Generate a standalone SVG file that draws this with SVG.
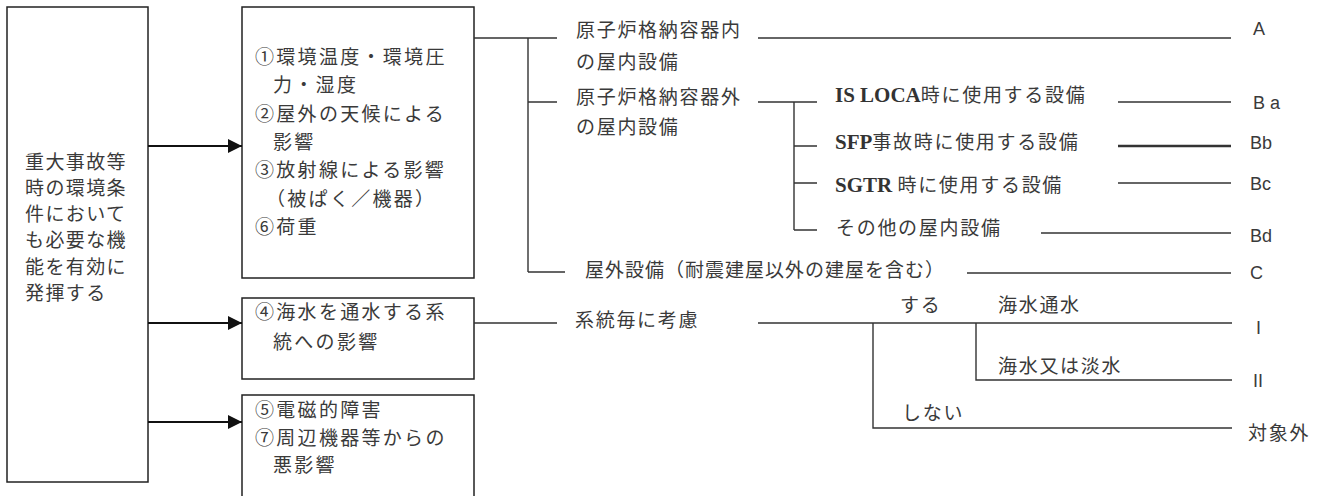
<svg xmlns="http://www.w3.org/2000/svg" width="1327" height="496" viewBox="0 0 1327 496">
<style>
.bg{fill:#fff}
.box{fill:#fff;stroke:#222;stroke-width:1.5}
.ln{stroke:#333;stroke-width:1.4;fill:none}
.thick{stroke-width:2.6}
.arr{stroke:#111;stroke-width:2;fill:none}
.jp{font-family:"Noto Sans CJK JP","Noto Sans",sans-serif;font-size:19px;fill:#3a3a3a;letter-spacing:1.7px}
.bx{letter-spacing:2.3px}
.lb{letter-spacing:1.4px}
.out{letter-spacing:1px}
.lat{font-family:"Liberation Sans",Arial,sans-serif;font-size:18px;fill:#3a3a3a}
.ser{font-family:"Liberation Serif","Times New Roman",serif;font-weight:bold;font-size:21px;letter-spacing:0;fill:#333}
</style>
<defs>
<marker id="ah" viewBox="0 0 14 14" refX="14" refY="7" markerWidth="14" markerHeight="14" markerUnits="userSpaceOnUse" orient="auto">
<path d="M0,0 L14,7 L0,14 Z" fill="#111"/>
</marker>
</defs>
<rect class="bg" x="0" y="0" width="1327" height="496"/>

<g id="node-goal">
<rect class="box" x="7" y="7" width="141" height="475"/>
<text class="jp lb" x="25" y="169">重大事故等</text>
<text class="jp lb" x="25" y="195">時の環境条</text>
<text class="jp lb" x="25" y="220.5">件において</text>
<text class="jp lb" x="25" y="247">も必要な機</text>
<text class="jp lb" x="25" y="273.5">能を有効に</text>
<text class="jp lb" x="25" y="299.5">発揮する</text>
</g>

<g id="node-env">
<rect class="box" x="242" y="7" width="232" height="271"/>
<text class="jp bx" x="255" y="63.5">①環境温度・環境圧</text>
<text class="jp bx" x="273" y="92">力・湿度</text>
<text class="jp bx" x="255" y="120.5">②屋外の天候による</text>
<text class="jp bx" x="273" y="148.5">影響</text>
<text class="jp bx" x="255" y="177">③放射線による影響</text>
<text class="jp bx" x="266" y="205.5">（被ぱく／機器）</text>
<text class="jp bx" x="255" y="233.5">⑥荷重</text>
</g>

<g id="node-sea">
<rect class="box" x="242" y="298" width="232" height="81"/>
<text class="jp bx" x="255" y="318.5">④海水を通水する系</text>
<text class="jp bx" x="273" y="348.5">統への影響</text>
</g>

<g id="node-emi">
<rect class="box" x="242" y="395" width="232" height="120"/>
<text class="jp bx" x="255" y="417">⑤電磁的障害</text>
<text class="jp bx" x="255" y="445">⑦周辺機器等からの</text>
<text class="jp bx" x="273" y="472">悪影響</text>
</g>

<g id="connectors">
<line class="arr" x1="148" y1="146" x2="242" y2="146" marker-end="url(#ah)"/>
<line class="arr" x1="148" y1="323" x2="242" y2="323" marker-end="url(#ah)"/>
<line class="arr" x1="148" y1="422" x2="242" y2="422" marker-end="url(#ah)"/>
<path class="ln" d="M474,38 H557 M528,38 V272 M528,102 H557 M528,272 H565"/>
<path class="ln" d="M758,38 H1231"/>
<path class="ln" d="M758,102 H817 M794,102 V230 M794,146 H817 M794,183 H817 M794,230 H817"/>
<path class="ln" d="M1118,102 H1231"/>
<path class="ln thick" d="M1118,146 H1231"/>
<path class="ln" d="M1118,183 H1231"/>
<path class="ln" d="M1041,233 H1231"/>
<path class="ln" d="M967,273 H1231"/>
<path class="ln" d="M474,323 H557 M758,323 H1232 M873,323 V428 H1232 M976,323 V380 H1232"/>
</g>

<g id="node-inner">
<text class="jp" x="576" y="37">原子炉格納容器内</text>
<text class="jp" x="576" y="69">の屋内設備</text>
</g>
<g id="node-outer">
<text class="jp" x="576" y="104">原子炉格納容器外</text>
<text class="jp" x="576" y="134">の屋内設備</text>
</g>
<g id="node-isloca">
<text class="jp" x="835" y="102"><tspan class="ser">IS LOCA</tspan>時に使用する設備</text>
</g>
<g id="node-sfp">
<text class="jp" x="835" y="149"><tspan class="ser">SFP</tspan>事故時に使用する設備</text>
</g>
<g id="node-sgtr">
<text class="jp" x="835" y="192"><tspan class="ser">SGTR </tspan>時に使用する設備</text>
</g>
<g id="node-other">
<text class="jp" x="836" y="235">その他の屋内設備</text>
</g>
<g id="node-outdoor">
<text class="jp out" x="585" y="277">屋外設備（耐震建屋以外の建屋を含む）</text>
</g>
<g id="node-each">
<text class="jp" x="575" y="327">系統毎に考慮</text>
</g>
<g id="node-yes"><text class="jp" x="900" y="312">する</text></g>
<g id="node-seawater"><text class="jp" x="998" y="312">海水通水</text></g>
<g id="node-either"><text class="jp" x="998" y="373">海水又は淡水</text></g>
<g id="node-no"><text class="jp" x="902" y="420">しない</text></g>

<g id="node-A"><text class="lat" x="1253" y="34.5">A</text></g>
<g id="node-Ba"><text class="lat" x="1253" y="108.5">B a</text></g>
<g id="node-Bb"><text class="lat" x="1250" y="148.5">Bb</text></g>
<g id="node-Bc"><text class="lat" x="1250" y="189.5">Bc</text></g>
<g id="node-Bd"><text class="lat" x="1250" y="241.5">Bd</text></g>
<g id="node-C"><text class="lat" x="1250" y="278.5">C</text></g>
<g id="node-I"><text class="lat" x="1256" y="333.5">I</text></g>
<g id="node-II"><text class="lat" x="1253" y="386.5">II</text></g>
<g id="node-na"><text class="jp" x="1248" y="440">対象外</text></g>
</svg>
